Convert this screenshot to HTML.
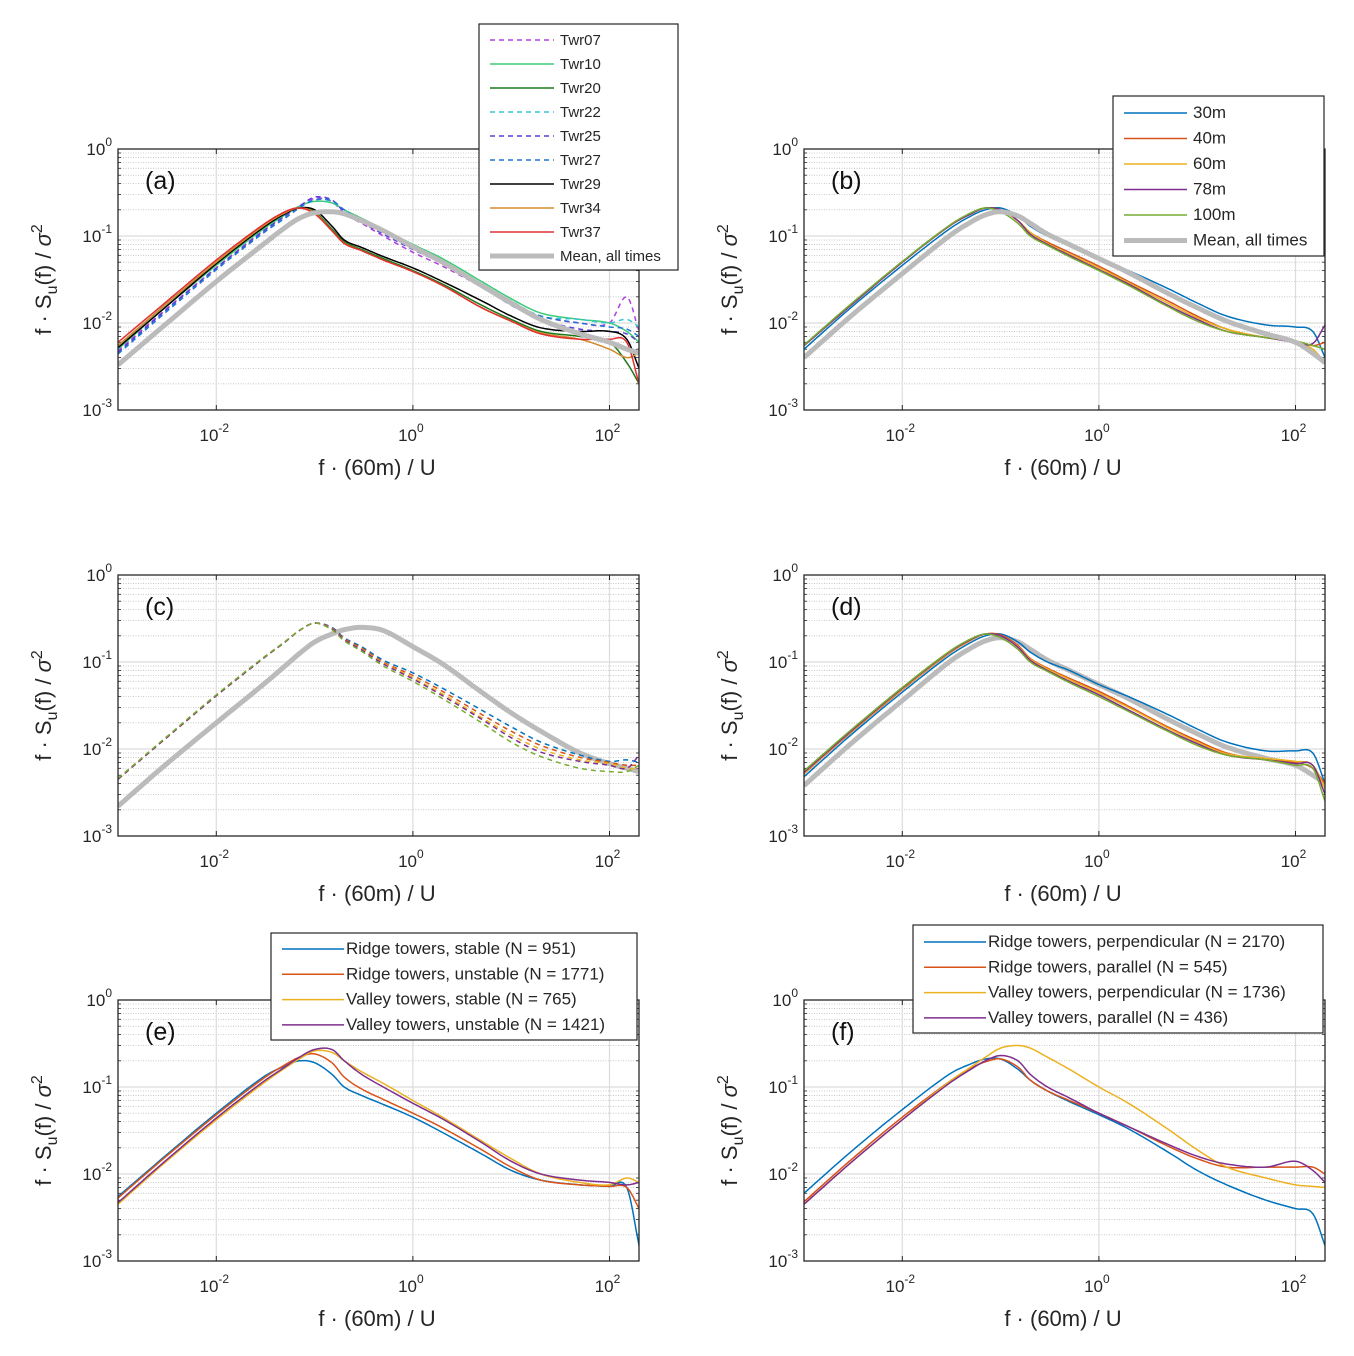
<!DOCTYPE html>
<html><head><meta charset="utf-8">
<style>
html,body{margin:0;padding:0;background:#fff;}
svg{display:block;font-family:"Liberation Sans",Arial,sans-serif;}
</style></head>
<body>
<svg id="fig" width="1354" height="1356" viewBox="0 0 1354 1356" xmlns="http://www.w3.org/2000/svg"></svg>
<script>
// ---- data ----
const freqs = [0.001,0.003,0.01,0.03,0.05,0.07,0.1,0.15,0.2,0.3,0.5,1,2,5,10,20,50,100,150,200];
const xTickLabels = ["-2","0","2"];
const yTickLabels = ["0","-1","-2","-3"];

const aNames = ["Twr07","Twr10","Twr20","Twr22","Twr25","Twr27","Twr29","Twr34","Twr37","Mean, all times"];
const aTwr07 = [0.0048,0.014,0.043,0.115,0.17,0.22,0.27,0.25,0.18,0.14,0.1,0.065,0.045,0.026,0.017,0.012,0.01,0.01,0.02,0.008];
const aTwr10 = [0.005,0.015,0.046,0.12,0.175,0.22,0.25,0.24,0.2,0.16,0.12,0.08,0.055,0.03,0.019,0.013,0.011,0.01,0.008,0.006];
const aTwr20 = [0.0055,0.016,0.05,0.13,0.185,0.21,0.19,0.12,0.086,0.07,0.055,0.04,0.028,0.016,0.011,0.008,0.007,0.006,0.0035,0.002];
const aTwr22 = [0.0045,0.0135,0.042,0.11,0.165,0.215,0.26,0.25,0.2,0.155,0.115,0.078,0.052,0.028,0.018,0.012,0.011,0.01,0.011,0.009];
const aTwr25 = [0.0046,0.0138,0.043,0.113,0.17,0.22,0.28,0.26,0.19,0.145,0.105,0.07,0.048,0.026,0.016,0.011,0.0085,0.008,0.0075,0.006];
const aTwr27 = [0.0044,0.013,0.041,0.108,0.16,0.21,0.26,0.255,0.2,0.15,0.11,0.075,0.05,0.027,0.017,0.012,0.01,0.009,0.0085,0.007];
const aTwr29 = [0.0052,0.015,0.048,0.125,0.18,0.21,0.2,0.13,0.09,0.074,0.058,0.043,0.03,0.018,0.012,0.0088,0.008,0.008,0.0065,0.003];
const aTwr34 = [0.0055,0.016,0.05,0.13,0.185,0.21,0.185,0.115,0.083,0.068,0.053,0.039,0.027,0.015,0.0105,0.0077,0.0065,0.005,0.004,0.0045];
const aTwr37 = [0.006,0.017,0.053,0.135,0.19,0.21,0.18,0.115,0.082,0.068,0.053,0.039,0.027,0.015,0.0105,0.0075,0.0065,0.0065,0.006,0.002];
const aMean = [0.0033,0.0095,0.03,0.08,0.125,0.16,0.185,0.19,0.18,0.15,0.115,0.075,0.05,0.027,0.017,0.011,0.0075,0.006,0.005,0.0045];

const bNames = ["30m","40m","60m","78m","100m","Mean, all times"];
const b30 = [0.005,0.015,0.046,0.12,0.17,0.2,0.21,0.17,0.13,0.1,0.08,0.055,0.04,0.025,0.017,0.012,0.0095,0.009,0.008,0.004];
const b40 = [0.0055,0.016,0.05,0.13,0.18,0.21,0.2,0.15,0.11,0.085,0.065,0.045,0.03,0.018,0.012,0.0085,0.0068,0.0062,0.0055,0.006];
const b60 = [0.0055,0.016,0.05,0.13,0.18,0.21,0.2,0.15,0.11,0.082,0.062,0.043,0.029,0.017,0.0115,0.0085,0.0068,0.006,0.005,0.0035];
const b78 = [0.0055,0.016,0.05,0.13,0.18,0.21,0.2,0.15,0.105,0.08,0.06,0.041,0.028,0.016,0.011,0.008,0.0068,0.006,0.0058,0.0095];
const b100 = [0.0056,0.0165,0.051,0.132,0.185,0.21,0.19,0.14,0.1,0.078,0.058,0.04,0.027,0.0155,0.0105,0.008,0.0068,0.0062,0.0055,0.005];
const bMean = [0.004,0.012,0.037,0.1,0.145,0.175,0.19,0.17,0.14,0.105,0.08,0.055,0.038,0.022,0.015,0.0105,0.0075,0.006,0.0045,0.0035];

const c1 = [0.0045,0.013,0.041,0.11,0.17,0.23,0.28,0.25,0.19,0.15,0.105,0.075,0.05,0.028,0.018,0.012,0.0085,0.0072,0.0075,0.007];
const c2 = [0.0045,0.013,0.041,0.11,0.17,0.23,0.28,0.245,0.185,0.145,0.1,0.07,0.046,0.025,0.016,0.011,0.008,0.007,0.0065,0.0065];
const c3 = [0.0045,0.013,0.041,0.11,0.17,0.23,0.28,0.24,0.18,0.14,0.097,0.066,0.043,0.023,0.0145,0.01,0.0075,0.0068,0.006,0.006];
const c4 = [0.0045,0.013,0.041,0.11,0.17,0.23,0.28,0.24,0.18,0.138,0.095,0.064,0.041,0.022,0.0135,0.0092,0.0072,0.0065,0.006,0.0085];
const c5 = [0.0046,0.0133,0.042,0.112,0.172,0.23,0.28,0.235,0.175,0.133,0.09,0.06,0.038,0.02,0.012,0.0082,0.006,0.0055,0.0055,0.0065];
const cMean = [0.0022,0.0065,0.02,0.055,0.09,0.125,0.17,0.21,0.235,0.25,0.23,0.15,0.095,0.045,0.026,0.016,0.009,0.0068,0.006,0.0055];

const d30 = [0.0048,0.0145,0.045,0.118,0.168,0.2,0.21,0.17,0.13,0.1,0.08,0.055,0.04,0.025,0.017,0.012,0.0095,0.0095,0.009,0.004];
const d40 = [0.0052,0.0155,0.048,0.126,0.178,0.21,0.205,0.155,0.11,0.085,0.065,0.046,0.031,0.018,0.0125,0.009,0.0075,0.007,0.006,0.004];
const d60 = [0.0053,0.0158,0.049,0.128,0.18,0.21,0.2,0.15,0.108,0.083,0.063,0.044,0.03,0.0175,0.012,0.0088,0.0078,0.0072,0.0065,0.0035];
const d78 = [0.0054,0.016,0.05,0.13,0.182,0.21,0.2,0.148,0.105,0.08,0.06,0.042,0.028,0.0165,0.0115,0.0085,0.0075,0.0068,0.0065,0.003];
const d100 = [0.0056,0.0165,0.051,0.132,0.185,0.21,0.19,0.14,0.1,0.078,0.058,0.04,0.027,0.016,0.011,0.0085,0.0075,0.0065,0.006,0.0025];
const dMean = [0.0038,0.0115,0.036,0.1,0.145,0.175,0.19,0.17,0.14,0.105,0.08,0.055,0.038,0.022,0.015,0.0105,0.0078,0.0065,0.005,0.004];

const eNames = ["Ridge towers, stable (N = 951)","Ridge towers, unstable (N = 1771)","Valley towers, stable (N = 765)","Valley towers, unstable (N = 1421)"];
const e1 = [0.0055,0.016,0.05,0.13,0.175,0.2,0.19,0.14,0.1,0.08,0.063,0.045,0.03,0.017,0.011,0.0085,0.0075,0.0072,0.007,0.0015];
const e2 = [0.0053,0.0155,0.048,0.125,0.18,0.22,0.24,0.19,0.13,0.095,0.072,0.05,0.034,0.019,0.012,0.0085,0.0075,0.0072,0.007,0.004];
const e3 = [0.0045,0.0135,0.042,0.11,0.165,0.21,0.26,0.25,0.2,0.15,0.11,0.07,0.045,0.024,0.015,0.01,0.008,0.0075,0.009,0.008];
const e4 = [0.0047,0.014,0.044,0.115,0.17,0.22,0.27,0.27,0.2,0.14,0.1,0.065,0.043,0.023,0.014,0.01,0.0085,0.008,0.0075,0.008];

const fNames = ["Ridge towers, perpendicular (N = 2170)","Ridge towers, parallel (N = 545)","Valley towers, perpendicular (N = 1736)","Valley towers, parallel (N = 436)"];
const f1 = [0.006,0.018,0.055,0.14,0.185,0.21,0.21,0.16,0.12,0.09,0.068,0.048,0.033,0.018,0.011,0.0075,0.005,0.004,0.0035,0.0015];
const f2 = [0.0048,0.0145,0.045,0.115,0.165,0.195,0.21,0.17,0.12,0.09,0.07,0.05,0.035,0.021,0.015,0.012,0.012,0.012,0.012,0.01];
const f3 = [0.0045,0.0135,0.042,0.115,0.17,0.22,0.28,0.3,0.28,0.22,0.16,0.1,0.065,0.033,0.019,0.012,0.009,0.0075,0.0072,0.007];
const f4 = [0.0045,0.0135,0.042,0.11,0.16,0.2,0.23,0.2,0.14,0.1,0.075,0.05,0.035,0.022,0.016,0.013,0.012,0.014,0.011,0.008];

// ---- drawing ----
const NS="http://www.w3.org/2000/svg";
const svg=document.getElementById('fig');
function el(tag,attrs,parent,text){const e=document.createElementNS(NS,tag);for(const k in attrs)e.setAttribute(k,attrs[k]);if(text!==undefined)e.textContent=text;(parent||svg).appendChild(e);return e;}

const C={blue:"#0072BD",orange:"#D95319",yellow:"#EDB120",purple:"#7E2F8E",green:"#77AC30",gray:"#BBBBBB"};

function panel(name,label,x0,y0,series){
  const x1=x0+521,y1=y0+261;
  const lx0=-3,lx1=-3+521/98.3;
  const X=v=>x0+(Math.log10(v)-lx0)/(lx1-lx0)*(x1-x0);
  const Y=v=>y0+(0-Math.log10(v))/3*(y1-y0);
  const g=el('g',{},svg);
  
  
  el('rect',{x:x0,y:y0,width:x1-x0,height:y1-y0,fill:'#fff'},g);
  for(let d=-3;d<0;d++)for(let m=2;m<=9;m++){const yy=Y(m*Math.pow(10,d));
    el('line',{x1:x0,x2:x1,y1:yy,y2:yy,stroke:'#bfbfbf','stroke-width':0.8,'stroke-dasharray':'1,1.5'},g);
    el('line',{x1:x0,x2:x0+3,y1:yy,y2:yy,stroke:'#262626','stroke-width':0.8},g);
    el('line',{x1:x1,x2:x1-3,y1:yy,y2:yy,stroke:'#262626','stroke-width':0.8},g);}
  for(let d=-2;d<=-1;d++){const yy=Y(Math.pow(10,d));el('line',{x1:x0,x2:x1,y1:yy,y2:yy,stroke:'#dcdcdc','stroke-width':1.2},g);}
  [-2,0,2].forEach(d=>{const xx=X(Math.pow(10,d));el('line',{x1:xx,x2:xx,y1:y0,y2:y1,stroke:'#dcdcdc','stroke-width':1.2},g);
    el('line',{x1:xx,x2:xx,y1:y1,y2:y1-5,stroke:'#262626'},g);el('line',{x1:xx,x2:xx,y1:y0,y2:y0+5,stroke:'#262626'},g);});
  const clip='clip-'+name;
  const cp=el('clipPath',{id:clip},g);el('rect',{x:x0,y:y0,width:x1-x0,height:y1-y0},cp);
  const sg=el('g',{'clip-path':'url(#'+clip+')'},g);
  series.forEach(s=>{
    let d='';
    for(let i=0;i<freqs.length-1;i++){
      const la=Math.log10(freqs[i]),lb=Math.log10(freqs[i+1]);
      const ya=Math.log10(s.v[i]),yb=Math.log10(s.v[i+1]);
      const n=8;
      for(let k=(i==0?0:1);k<=n;k++){const t=k/n;
        const m0=i>0?(Math.log10(s.v[i+1])-Math.log10(s.v[i-1]))/(lb-Math.log10(freqs[i-1]))*(lb-la):yb-ya;
        const m1=i<freqs.length-2?(Math.log10(s.v[i+2])-ya)/(Math.log10(freqs[i+2])-la)*(lb-la):yb-ya;
        const h00=2*t*t*t-3*t*t+1,h10=t*t*t-2*t*t+t,h01=-2*t*t*t+3*t*t,h11=t*t*t-t*t;
        const yl=h00*ya+h10*m0+h01*yb+h11*m1;
        const xl=la+t*(lb-la);
        const px=X(Math.pow(10,xl)),py=Y(Math.pow(10,yl));
        d+=(d?'L':'M')+px.toFixed(1)+','+py.toFixed(1);}
    }
    const p=el('path',{d:d,fill:'none',stroke:s.c,'stroke-width':s.w||1.5,'stroke-dasharray':s.dash?'5,4':'none','stroke-linejoin':'round'},sg);
    
    
  });
  el('rect',{x:x0,y:y0,width:x1-x0,height:y1-y0,fill:'none',stroke:'#262626','stroke-width':1.3},g);
  yTickLabels.forEach((t,i)=>{const yy=y0+i*(y1-y0)/3;
    const tx=el('text',{x:x0-6,y:yy+6,'text-anchor':'end','font-size':17,fill:'#262626'},g);
    
    el('tspan',{},tx,'10');el('tspan',{dy:-9,'font-size':12},tx,t);});
  xTickLabels.forEach((t,i)=>{const xx=X(Math.pow(10,[-2,0,2][i]));
    const tx=el('text',{x:xx-2,y:y1+31,'text-anchor':'middle','font-size':17,fill:'#262626'},g);
    
    el('tspan',{},tx,'10');el('tspan',{dy:-9,'font-size':12},tx,t);});
  const xl=el('text',{x:x0+259,y:y1+65,'text-anchor':'middle','font-size':22,fill:'#262626'},g,'f \u00b7 (60m) / U');
  
  const yl=el('text',{transform:'translate('+(x0-67)+','+((y0+y1)/2)+') rotate(-90)','text-anchor':'middle','font-size':22,fill:'#262626'},g);
  
  el('tspan',{},yl,'f \u00b7 S');el('tspan',{dy:6,'font-size':16},yl,'u');el('tspan',{dy:-6},yl,'(f) / ');
  el('tspan',{'font-style':'italic'},yl,'\u03c3');el('tspan',{dy:-9,'font-size':16},yl,'2');
  const pl=el('text',{x:x0+27,y:y0+40,'font-size':25,fill:'#111'},g,label);
  
  return g;
}

function legend(name,x,y,w,h,entries,dy,lineLen,fs,gap,top){
  const g=el('g',{},svg);
  
  
  el('rect',{x:x,y:y,width:w,height:h,fill:'#fff',stroke:'#262626','stroke-width':1.2},g);
  entries.forEach((e,i)=>{const yy=y+top+i*dy;
    el('line',{x1:x+11,x2:x+11+lineLen,y1:yy,y2:yy,stroke:e.c,'stroke-width':e.w||1.5,'stroke-dasharray':e.dash?'5,4':'none'},g);
    const t=el('text',{x:x+11+lineLen+gap,y:yy+5,'font-size':fs,fill:'#262626'},g,e.n);
    });
}

const aSeries=[
 {id:'twr07',c:'#B03FE0',v:aTwr07,dash:1},{id:'twr10',c:'#3DCB7A',v:aTwr10},{id:'twr20',c:'#1A7A1A',v:aTwr20},
 {id:'twr22',c:'#3CC3D6',v:aTwr22,dash:1},{id:'twr25',c:'#5A3DD8',v:aTwr25,dash:1},{id:'twr27',c:'#2273D4',v:aTwr27,dash:1},
 {id:'twr29',c:'#000000',v:aTwr29},{id:'twr34',c:'#D28A30',v:aTwr34},{id:'twr37',c:'#E23030',v:aTwr37},
 {id:'mean-all-times',c:C.gray,v:aMean,w:5}];
panel('panel-a','(a)',118,149,aSeries);
panel('panel-b','(b)',804,149,[{id:'h30m',c:C.blue,v:b30},{id:'h40m',c:C.orange,v:b40},{id:'h60m',c:C.yellow,v:b60},{id:'h78m',c:C.purple,v:b78},{id:'h100m',c:C.green,v:b100},{id:'mean-all-times',c:C.gray,v:bMean,w:5}]);
panel('panel-c','(c)',118,575,[{id:'mean-all-times',c:C.gray,v:cMean,w:5},{id:'c-s1',c:C.blue,v:c1,dash:1},{id:'c-s2',c:C.orange,v:c2,dash:1},{id:'c-s3',c:C.yellow,v:c3,dash:1},{id:'c-s4',c:C.purple,v:c4,dash:1},{id:'c-s5',c:C.green,v:c5,dash:1}]);
panel('panel-d','(d)',804,575,[{id:'mean-all-times',c:C.gray,v:dMean,w:5},{id:'d-30m',c:C.blue,v:d30},{id:'d-40m',c:C.orange,v:d40},{id:'d-60m',c:C.yellow,v:d60},{id:'d-78m',c:C.purple,v:d78},{id:'d-100m',c:C.green,v:d100}]);
panel('panel-e','(e)',118,1000,[{id:'ridge-stable',c:C.blue,v:e1},{id:'ridge-unstable',c:C.orange,v:e2},{id:'valley-stable',c:C.yellow,v:e3},{id:'valley-unstable',c:C.purple,v:e4}]);
panel('panel-f','(f)',804,1000,[{id:'ridge-perp',c:C.blue,v:f1},{id:'ridge-par',c:C.orange,v:f2},{id:'valley-perp',c:C.yellow,v:f3},{id:'valley-par',c:C.purple,v:f4}]);

legend('legend-a',479,24,199,246,aSeries.map((s,i)=>({n:aNames[i],c:s.c,dash:s.dash,w:s.w})),24,64,15,6,16);
legend('legend-b',1113,96,211,160,[C.blue,C.orange,C.yellow,C.purple,C.green,C.gray].map((c,i)=>({n:bNames[i],c:c,w:i==5?5:1.5})),25.5,63,17,6,17);
legend('legend-e',271,933,366,107,[C.blue,C.orange,C.yellow,C.purple].map((c,i)=>({n:eNames[i],c:c})),25.3,62,17,2,16);
legend('legend-f',913,925,410,108,[C.blue,C.orange,C.yellow,C.purple].map((c,i)=>({n:fNames[i],c:c})),25.3,62,17,2,17);
</script>
</body></html>
